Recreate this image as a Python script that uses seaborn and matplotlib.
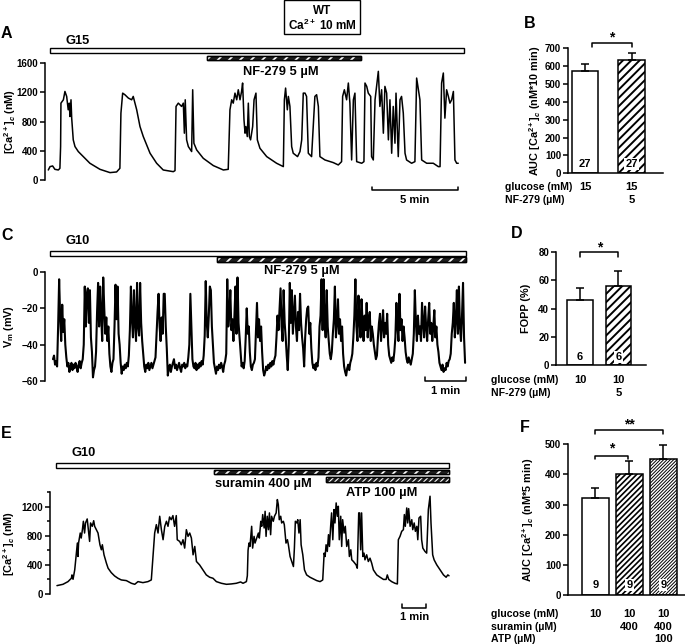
import numpy as np
import pandas as pd
import matplotlib
matplotlib.use("Agg")
import matplotlib.pyplot as plt
import seaborn as sns
from matplotlib.patches import Rectangle
from matplotlib.lines import Line2D
from matplotlib.transforms import blended_transform_factory as blend

# ------------------------------------------------------------------ data
# Panel A: [Ca2+]c trace, G15, time in min, concentration in nM
a_time = [0.00, 0.10, 0.25, 0.38, 0.58, 0.67, 0.71, 0.73, 0.87, 0.96,
          1.06, 1.15, 1.21, 1.25, 1.31, 1.35, 1.44, 1.54, 1.73, 2.02,
          2.40, 2.98, 3.56, 3.94, 4.13, 4.19, 4.29, 4.42, 4.62, 4.81,
          4.90, 5.00, 5.10, 5.29, 5.48, 5.87, 6.25, 6.63, 7.21, 7.31,
          7.37, 7.50, 7.69, 7.79, 7.85, 7.90, 7.98, 8.08, 8.27, 8.33,
          8.40, 8.56, 8.94, 9.52, 10.10, 10.38, 10.48, 10.58, 10.67, 10.77,
          10.87, 10.96, 11.06, 11.15, 11.21, 11.29, 11.35, 11.40, 11.48, 11.54,
          11.60, 11.67, 11.79, 11.87, 11.98, 12.06, 12.21, 12.60, 13.17, 13.56,
          13.62, 13.69, 13.79, 13.85, 13.94, 14.04, 14.13, 14.38, 14.52, 14.62,
          14.71, 14.81, 14.90, 15.00, 15.19, 15.38, 15.48, 15.58, 15.67, 15.96,
          16.44, 16.73, 16.92, 16.98, 17.08, 17.21, 17.31, 17.40, 17.50, 17.60,
          17.69, 17.79, 18.08, 18.21, 18.27, 18.37, 18.46, 18.60, 18.65, 18.75,
          18.85, 18.94, 19.04, 19.13, 19.23, 19.33, 19.42, 19.52, 19.62, 19.71,
          19.81, 19.90, 20.00, 20.06, 20.19, 20.29, 20.38, 20.48, 20.58, 20.67,
          20.96, 21.15, 21.25, 21.35, 21.44, 21.54, 21.83, 22.21, 22.50, 22.60,
          22.69, 22.79, 22.88, 22.98, 23.08, 23.17, 23.27, 23.37, 23.46, 23.56,
          23.65]
a_ca = [137, 183, 192, 146, 137, 160, 457, 1051, 1097, 1211,
        1143, 960, 1051, 868, 1097, 846, 549, 457, 389, 320,
        229, 146, 101, 110, 160, 914, 1188, 1166, 1120, 1097,
        1143, 1051, 960, 731, 594, 366, 229, 137, 114, 128,
        1006, 1051, 1006, 1051, 640, 1097, 549, 457, 389, 1234,
        503, 411, 297, 197, 137, 146, 960, 1097, 1051, 1188,
        1097, 1234, 1097, 1211, 1326, 823, 640, 731, 594, 1051,
        594, 549, 731, 1097, 1188, 549, 434, 320, 229, 183,
        1097, 1257, 960, 1143, 1006, 457, 366, 320, 389, 549,
        1188, 1188, 1143, 366, 320, 1143, 1166, 1006, 320, 274,
        238, 206, 251, 1143, 1234, 1097, 1326, 1051, 274, 1097,
        1188, 251, 229, 251, 1326, 1280, 1188, 1143, 320, 274,
        1097, 1280, 1486, 1006, 1234, 640, 1280, 1188, 549, 1097,
        366, 1006, 503, 1188, 320, 1097, 1143, 914, 366, 274,
        229, 251, 1394, 1234, 1097, 274, 229, 229, 183, 183,
        1326, 1463, 846, 1234, 1143, 1051, 1097, 1211, 274, 229,
        229]

# Panel B: AUC
b_auc = [575, 633]
b_sem = [36, 43]
b_n = ["27", "27"]
b_glucose = ["15", "15"]
b_nf279 = ["", "5"]

# Panel C: membrane potential (mV), sampled every c_dt min
c_dt = 0.025
c_vm = [
    -48, -46, -51, -49, -52,
    -30, -4, -25, -38, -18, -33, -26, -40,
    -47, -52, -50, -55, -52, -50, -54, -51, -53, -50, -52, -55, -51, -49, -53, -50, -48,
    -40, -8, -30, -12, -9, -28, -10, -36, -44,
    -58, -54, -52,
    -44, -22, -6, -30, -8, -24, -38, -3, -20, -34, -25, -38, -30,
    -45, -52, -55, -50, -48,
    -30, -7, -26, -8, -34, -40,
    -50, -56, -52, -54, -51, -53, -50, -52, -46,
    -32, -8, -26, -36, -10, -28, -38, -6, -30, -35, -6, -28, -38, -45,
    -52, -55, -51, -53, -50, -54, -52, -50, -53, -51, -49, -47,
    -34, -22, -12, -30, -38, -25, -34, -12, -12, -30, -42,
    -57, -53, -51, -55, -52, -50, -48, -53, -51, -54, -52, -50, -53, -55, -51, -52, -50, -53, -51, -52, -47,
    -40, -12, -30, -48,
    -52, -53, -50, -54, -51, -53, -50, -52, -49, -51, -46,
    -35, -5, -28, -36, -24, -8, -10, -30, -40,
    -50, -53, -56, -52, -54, -51, -53, -50, -52, -55, -51, -49, -45,
    -4, -30, -22, -10, -32, -26, -38, -24, -8, -34, -3, -28, -36, -44,
    -52, -50, -53, -49,
    -36, -20, -34, -30, -44,
    -52, -54, -51, -50, -48,
    -32, -17, -36, -26, -38, -30, -44,
    -54, -57, -55, -52, -54, -51, -53, -50, -52, -49, -51, -48, -46,
    -36, -24, -32, -20, -9, -30, -38, -10, -28, -36, -46,
    -54,
    -40, -6, -28, -10, -34, -24, -13, -30, -38, -22, -32, -12, -28, -36, -42,
    -52,
    -36, -26, -20, -19, -34, -28, -42,
    -50, -53, -51, -54, -50, -52, -47,
    -30, -24, -4, -32, -4, -26, -36, -10, -30, -38, -45,
    -48, -44,
    -34, -26, -8, -36, -28, -15, -34, -26, -38, -30, -45,
    -52, -55, -57, -53, -51, -54, -50, -48, -45,
    -36, -24, -4, -30, -38, -13, -26, -36, -15, -28, -38, -24, -32, -17, -36, -26, -22, -38, -30, -34, -40, -44,
    -48, -46,
    -36, -28, -23, -38, -30, -21, -36, -28, -34, -23, -40,
    -46, -48, -50, -47, -49, -44,
    -36, -17, -30, -38, -12, -32, -26, -38, -30, -36, -44,
    -48, -50, -47, -49, -51, -48, -45,
    -34, -10, -28, -38, -24, -34, -30, -38, -17, -28, -36, -19, -30, -38, -26, -17, -34, -28, -38, -30, -21, -36, -30, -40, -44,
    -50, -52, -54, -51, -55, -53, -54, -50, -52, -49, -48, -45,
    -34, -28, -17, -36, -26, -10, -34, -8, -30, -38, -24, -6, -36, -50,
]

# Panel D: FOPP
d_fopp = [45.8, 55.9]
d_sem = [9.0, 10.9]
d_n = ["6", "6"]
d_glucose = ["10", "10"]
d_nf279 = ["", "5"]

# Panel E: [Ca2+]c trace, G10, suramin, ATP
e_time = [0.00, 0.25, 0.46, 0.60, 0.625, 0.67, 0.74, 0.85, 0.875, 0.90,
          0.97, 1.01, 1.06, 1.10, 1.15, 1.19, 1.26, 1.32, 1.36, 1.40,
          1.47, 1.53, 1.57, 1.64, 1.71, 1.79, 1.85, 1.89, 1.96, 2.06,
          2.13, 2.26, 2.40, 2.54, 2.68, 2.89, 3.10, 3.24, 3.375, 3.58,
          3.79, 3.93, 4.00, 4.07, 4.14, 4.21, 4.28, 4.35, 4.42, 4.49,
          4.56, 4.625, 4.69, 4.76, 4.83, 4.90, 4.97, 5.01, 5.11, 5.18,
          5.25, 5.32, 5.39, 5.46, 5.53, 5.60, 5.67, 5.74, 5.81, 5.94,
          6.08, 6.22, 6.36, 6.50, 6.64, 6.85, 7.06, 7.26, 7.47, 7.65,
          7.75, 7.89, 7.93, 7.96, 8.00, 8.04, 8.11, 8.15, 8.21, 8.25,
          8.32, 8.39, 8.43, 8.49, 8.53, 8.57, 8.63, 8.67, 8.71, 8.76,
          8.81, 8.85, 8.90, 8.94, 9.01, 9.06, 9.13, 9.18, 9.22, 9.26,
          9.32, 9.36, 9.43, 9.47, 9.54, 9.60, 9.64, 9.71, 9.78, 9.85,
          9.89, 9.93, 9.99, 10.03, 10.08, 10.13, 10.17, 10.24, 10.31, 10.40,
          10.54, 10.68, 10.82, 10.96, 11.07, 11.13, 11.17, 11.21, 11.26, 11.31,
          11.35, 11.40, 11.44, 11.49, 11.54, 11.58, 11.63, 11.68, 11.72, 11.76,
          11.82, 11.86, 11.90, 11.96, 12.01, 12.07, 12.14, 12.18, 12.24, 12.28,
          12.35, 12.46, 12.51, 12.57, 12.61, 12.65, 12.69, 12.74, 12.79, 12.83,
          12.90, 12.97, 13.04, 13.11, 13.18, 13.32, 13.46, 13.60, 13.71, 13.76,
          13.82, 13.94, 14.08, 14.18, 14.22, 14.29, 14.36, 14.43, 14.47, 14.51,
          14.57, 14.61, 14.65, 14.71, 14.78, 14.82, 14.88, 14.93, 14.99, 15.03,
          15.08, 15.15, 15.19, 15.24, 15.33, 15.40, 15.47, 15.54, 15.58, 15.65,
          15.71, 15.82, 15.96, 16.10, 16.21, 16.28, 16.33]
e_ca = [115, 133, 170, 216, 262, 202, 331, 699, 515, 700,
        837, 768, 883, 998, 837, 975, 1030, 837, 722, 975,
        929, 1006, 929, 883, 837, 676, 607, 676, 538, 423,
        354, 294, 248, 216, 193, 184, 147, 133, 170, 156,
        170, 193, 515, 837, 952, 837, 1067, 883, 745, 929,
        998, 929, 1057, 1020, 1076, 929, 1076, 745, 722, 676,
        745, 630, 883, 791, 837, 768, 538, 653, 446, 400,
        331, 262, 230, 216, 170, 147, 133, 138, 147, 165,
        147, 170, 250, 600, 700, 653, 929, 630, 791, 699,
        768, 837, 768, 998, 929, 1090, 906, 1135, 791, 1067,
        883, 1113, 814, 1067, 998, 1067, 1113, 1296, 1227, 1020,
        1067, 975, 998, 952, 699, 745, 676, 515, 446, 377,
        630, 998, 975, 1020, 837, 1020, 676, 538, 331, 262,
        230, 207, 184, 170, 193, 561, 515, 676, 584, 814,
        653, 929, 1113, 745, 1159, 975, 1250, 1067, 1204, 745,
        1067, 653, 1020, 837, 929, 653, 745, 515, 607, 469,
        446, 400, 354, 1113, 1113, 607, 1113, 515, 561, 469,
        538, 446, 492, 423, 331, 262, 230, 200, 200, 262,
        200, 170, 147, 138, 745, 791, 860, 883, 1090, 929,
        1181, 975, 1172, 929, 1020, 883, 975, 860, 929, 745,
        1043, 1067, 745, 630, 584, 561, 1159, 1342, 975, 538,
        469, 400, 331, 262, 230, 262, 250]

# Panel F: AUC
f_auc = [321, 403, 451]
f_sem = [33, 42, 47]
f_n = ["9", "9", "9"]
f_glucose = ["10", "10", "10"]
f_suramin = ["", "400", "400"]
f_atp = ["", "", "100"]

# ------------------------------------------------------------------ style
sns.set_theme(style="ticks")
plt.rcParams["font.family"] = ["Liberation Sans", "DejaVu Sans"]
plt.rcParams.update({
    "font.weight": "bold",
    "axes.labelweight": "bold",
    "mathtext.fontset": "custom",
    "mathtext.rm": "Liberation Sans:bold",
    "mathtext.it": "Liberation Sans:italic:bold",
    "mathtext.bf": "Liberation Sans:bold",
    "mathtext.default": "rm",
    "axes.edgecolor": "black",
    "xtick.color": "black",
    "ytick.color": "black",
    "text.color": "black",
    "axes.labelcolor": "black",
})

W, H = 685, 644
fig = plt.figure(figsize=(W / 100, H / 100), dpi=100)

LBL = 7.8      # axis label size
TCK = 7.0      # tick label size
ROW = 7.6      # condition rows under bars
CND = 9.3      # condition labels above traces
LET = 11.5     # panel letters


def fx(x):
    return x / W


def fy(y):
    return 1 - y / H


def pax(x0, y0, x1, y1):
    return fig.add_axes([fx(x0), fy(y1), (x1 - x0) / W, (y1 - y0) / H])


def txt(x, y, s, size=7, ha="center", tr=None, **kw):
    if tr is None:
        fig.text(fx(x), fy(y), s, fontsize=size, ha=ha, va="center", fontweight="bold", **kw)
    else:
        fig.text(x, fy(y), s, fontsize=size, ha=ha, va="center", fontweight="bold", transform=tr, **kw)


def place_ylabel(ax, ylabel, label_px):
    """Put the rotated y label centred at a given horizontal pixel of the figure."""
    ax.set_ylabel(ylabel, fontsize=LBL, va="center")
    pos = ax.get_position()
    ax.yaxis.set_label_coords((fx(label_px) - pos.x0) / pos.width, 0.5)


def style_trace(ax, xlim, ylim, yticks, ylabel, label_px, minor=None):
    ax.set_xlim(xlim)
    ax.set_ylim(ylim)
    ax.set_yticks(yticks)
    if minor is not None:
        ax.set_yticks(minor, minor=True)
    ax.set_xticks([])
    ax.set_xlabel("")
    for s in ["top", "right", "bottom"]:
        ax.spines[s].set_visible(False)
    ax.spines["left"].set_linewidth(1.1)
    ax.tick_params(axis="y", which="major", direction="out", length=3.5, width=1.1,
                   labelsize=TCK, pad=1.5, left=True)
    ax.tick_params(axis="y", which="minor", direction="out", length=2.5, width=1.1, left=True)
    place_ylabel(ax, ylabel, label_px)
    ax.patch.set_alpha(0)


def cond_bar(ax, t0, t1, y0, y1, hatch=None, hlw=1.2):
    tr = blend(ax.transData, fig.transFigure)
    yb, h = fy(y1), (y1 - y0) / H
    if hatch is None:
        fig.add_artist(Rectangle((t0, yb), t1 - t0, h, transform=tr, facecolor="white",
                                 edgecolor="black", lw=1.0))
    else:
        fig.add_artist(Rectangle((t0, yb), t1 - t0, h, transform=tr, facecolor="#1e1e1e",
                                 edgecolor="black", lw=1.0))
        hp = Rectangle((t0, yb), t1 - t0, h, transform=tr, fill=False, hatch=hatch,
                       edgecolor="white", lw=0)
        if hasattr(hp, "set_hatch_linewidth"):
            hp.set_hatch_linewidth(hlw)
        fig.add_artist(hp)
        fig.add_artist(Rectangle((t0, yb), t1 - t0, h, transform=tr, fill=False,
                                 edgecolor="black", lw=1.0))


def scale_bar(ax, t0, t1, ypx, label, label_ypx):
    tr = blend(ax.transData, fig.transFigure)
    fig.add_artist(Line2D([t0, t0, t1, t1], [fy(ypx - 3.5), fy(ypx), fy(ypx), fy(ypx - 3.5)],
                          transform=tr, color="black", lw=1.1))
    txt((t0 + t1) / 2, label_ypx, label, size=8, tr=tr)


def bar_panel(ax, vals, errs, ns, hatches, hlws, width, xlim, ylim, yticks, ylabel, label_px, n_y):
    df = pd.DataFrame({"grp": ["g%d" % i for i in range(len(vals))], "val": vals})
    sns.barplot(data=df, x="grp", y="val", ax=ax, color="white", edgecolor="black",
                linewidth=1.1, width=width, errorbar=None, saturation=1)
    for p, hch, lw in zip(ax.patches, hatches, hlws):
        if hch:
            p.set_hatch(hch)
            if hasattr(p, "set_hatch_linewidth"):
                p.set_hatch_linewidth(lw)
    xs = np.arange(len(vals))
    ax.errorbar(xs, vals, yerr=[np.zeros(len(vals)), errs], fmt="none", ecolor="black",
                elinewidth=1.1, capsize=3, capthick=1.1, zorder=3)
    for i, n in enumerate(ns):
        kw = {}
        if hatches[i]:
            kw["bbox"] = dict(facecolor="white", edgecolor="none", pad=0.8)
        ax.text(i, n_y, n, ha="center", va="center", fontsize=8, fontweight="bold", zorder=5, **kw)
    ax.set_xlim(xlim)
    ax.set_ylim(ylim)
    ax.set_yticks(yticks)
    ax.set_xticks([])
    ax.set_xlabel("")
    sns.despine(ax=ax)
    ax.spines["left"].set_linewidth(1.1)
    ax.spines["bottom"].set_linewidth(1.1)
    ax.tick_params(axis="y", direction="out", length=3.5, width=1.1, labelsize=TCK, pad=1.5, left=True)
    place_ylabel(ax, ylabel, label_px)
    ax.patch.set_alpha(0)


def bracket(ax, x0, x1, y, ydrop, star, ystar, size=10):
    ax.plot([x0, x0, x1, x1], [ydrop, y, y, ydrop], color="black", lw=1.1, clip_on=False)
    ax.text((x0 + x1) / 2, ystar, star, ha="center", va="center", fontsize=size,
            fontweight="bold", clip_on=False)


ca_label = r"[Ca$^{2+}$]$_\mathit{c}$ (nM)"

# ------------------------------------------------------------------ panel A
axA = pax(45, 63, 465, 180)
sns.lineplot(x=a_time, y=a_ca, ax=axA, color="black", linewidth=1.1, estimator=None, sort=False)
style_trace(axA, (-0.19, 24.04), (0, 1600), [0, 400, 800, 1200, 1600], ca_label, 10.5)
cond_bar(axA, 0.1, 24.0, 48.3, 52.7)
cond_bar(axA, 9.17, 18.04, 55.7, 60.3, hatch="///", hlw=1.3)
trA = blend(axA.transData, fig.transFigure)
txt(65, 41, "G15", size=CND, ha="left")
txt(13.4, 72, "NF-279 5 µM", size=CND, tr=trA)
scale_bar(axA, 18.66, 23.65, 190, "5 min", 200)
fig.add_artist(Rectangle((fx(284), fy(34)), 76 / W, 33.5 / H, transform=fig.transFigure,
                         facecolor="white", edgecolor="black", lw=1.0))
txt(322, 11.5, "WT", size=8.5)
txt(322, 25.5, r"Ca$^{2+}$ 10 mM", size=8.5)
txt(1, 33, "A", size=LET, ha="left")

# ------------------------------------------------------------------ panel B
axB = pax(568, 48.3, 663, 173.3)
bar_panel(axB, b_auc, b_sem, b_n, [None, "////"], [0, 1.4], 0.57, (-0.366, 1.677), (0, 700),
          list(range(0, 701, 100)), r"AUC [Ca$^{2+}$]$_\mathit{c}$ (nM*10 min)", 535, 52)
bracket(axB, 0.16, 1.0, 728, 706, "*", 760)
trB = blend(axB.transData, fig.transFigure)
txt(505, 187.5, "glucose (mM)", size=ROW, ha="left")
txt(505, 200, "NF-279 (µM)", size=ROW, ha="left")
for i in range(len(b_auc)):
    txt(i, 187.5, b_glucose[i], size=ROW + 0.4, tr=trB)
    txt(i, 200, b_nf279[i], size=ROW + 0.4, tr=trB)
txt(524, 23, "B", size=LET, ha="left")

# ------------------------------------------------------------------ panel C
axC = pax(45, 272, 470, 381)
c_time = np.arange(len(c_vm)) * c_dt
sns.lineplot(x=c_time, y=c_vm, ax=axC, color="black", linewidth=1.5, estimator=None, sort=False)
style_trace(axC, (-0.195, 10.17), (-60, 0), [-60, -40, -20, 0], r"V$_m$ (mV)", 9)
cond_bar(axC, -0.07, 10.07, 251, 255.5)
cond_bar(axC, 4.01, 10.07, 257.3, 261.7, hatch="///", hlw=1.3)
trC = blend(axC.transData, fig.transFigure)
txt(65, 241.5, "G10", size=CND, ha="left")
txt(6.07, 271.5, "NF-279 5 µM", size=CND, tr=trC)
scale_bar(axC, 9.07, 10.07, 381, "1 min", 391.5)
txt(1, 236, "C", size=LET, ha="left")

# ------------------------------------------------------------------ panel D
axD = pax(556, 252.3, 646, 365)
bar_panel(axD, d_fopp, d_sem, d_n, [None, "////"], [0, 1.4], 0.67, (-0.627, 1.72), (0, 80),
          [0, 20, 40, 60, 80], "FOPP (%)", 526, 5.8)
bracket(axD, 0.0, 1.0, 80.0, 77.0, "*", 83.3)
trD = blend(axD.transData, fig.transFigure)
txt(491, 380, "glucose (mM)", size=ROW, ha="left")
txt(491, 393.5, "NF-279 (µM)", size=ROW, ha="left")
for i in range(len(d_fopp)):
    txt(i, 380, d_glucose[i], size=ROW + 0.4, tr=trD)
    txt(i, 393.5, d_nf279[i], size=ROW + 0.4, tr=trD)
txt(511, 234, "D", size=LET, ha="left")

# ------------------------------------------------------------------ panel E
axE = pax(50, 492, 455, 594)
sns.lineplot(x=e_time, y=e_ca, ax=axE, color="black", linewidth=1.1, estimator=None, sort=False)
style_trace(axE, (-0.29, 16.58), (0, 1400), [0, 400, 800, 1200], ca_label, 9.5,
            minor=[200, 600, 1000, 1400])
cond_bar(axE, -0.04, 16.33, 463.3, 467.7)
cond_bar(axE, 6.55, 16.33, 470, 474.3, hatch="///", hlw=1.3)
cond_bar(axE, 11.21, 16.33, 477.3, 481.5, hatch="//////", hlw=0.8)
trE = blend(axE.transData, fig.transFigure)
txt(72, 453.5, "G10", size=CND, ha="left")
txt(8.58, 484.5, "suramin 400 µM", size=CND, tr=trE)
txt(13.54, 493, "ATP 100 µM", size=CND, tr=trE)
scale_bar(axE, 14.39, 15.375, 607.5, "1 min", 617.5)
txt(1, 434, "E", size=LET, ha="left")

# ------------------------------------------------------------------ panel F
axF = pax(568, 444.3, 685, 595)
bar_panel(axF, f_auc, f_sem, f_n, [None, "//////", "//////////"], [0, 1.2, 0.7], 0.79,
          (-0.81, 2.64), (0, 500), [0, 100, 200, 300, 400, 500],
          r"AUC [Ca$^{2+}$]$_\mathit{c}$ (nM*5 min)", 528, 33)
bracket(axF, 0.0, 0.97, 462, 451, "*", 485)
bracket(axF, 0.0, 2.0, 548, 533, "**", 565)
trF = blend(axF.transData, fig.transFigure)
txt(491, 614, "glucose (mM)", size=ROW, ha="left")
txt(491, 626.5, "suramin (µM)", size=ROW, ha="left")
txt(491, 639, "ATP (µM)", size=ROW, ha="left")
for i in range(len(f_auc)):
    txt(i, 614, f_glucose[i], size=ROW + 0.4, tr=trF)
    txt(i, 626.5, f_suramin[i], size=ROW + 0.4, tr=trF)
    txt(i, 639, f_atp[i], size=ROW + 0.4, tr=trF)
txt(520, 427, "F", size=LET, ha="left")

fig.savefig("out.png", dpi=100)
